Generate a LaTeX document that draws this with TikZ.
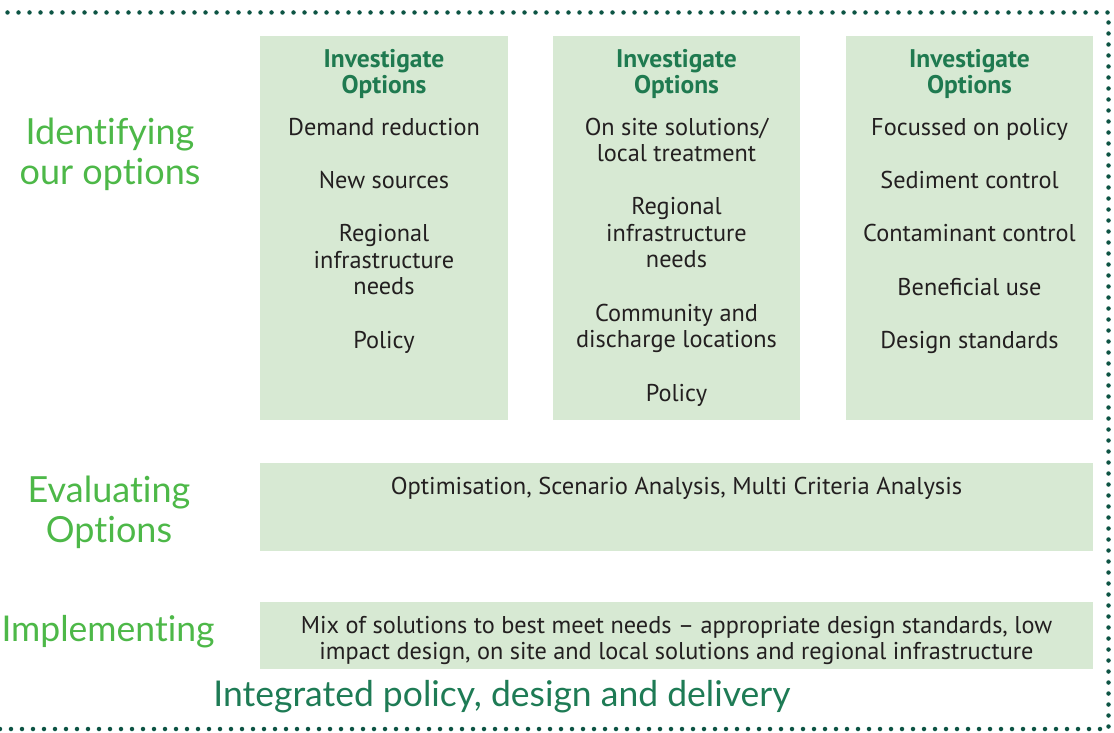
\documentclass[tikz,border=0pt]{standalone}
\usepackage{fontspec}
\setmainfont{PT Sans}
\newfontfamily\labelfont[Ligatures=NoCommon]{Lato}
\definecolor{boxfill}{HTML}{D7E9D3}
\definecolor{dotcol}{HTML}{0D5444}
\definecolor{labgreen}{HTML}{4DB848}
\definecolor{headgreen}{HTML}{1F7A50}
\definecolor{intgreen}{HTML}{1E7B55}
\definecolor{bodytext}{HTML}{231F20}
\begin{document}
\begin{tikzpicture}[x=1pt,y=-1pt,
  panel/.style={fill=boxfill,draw=none},
  body/.style={text=bodytext,font=\fontsize{24.3}{26.5}\selectfont,align=center,inner sep=0pt},
  head/.style={text=headgreen,font=\bfseries\fontsize{25.5}{26.5}\selectfont,align=center,inner sep=0pt},
  lab/.style={text=labgreen,font=\labelfont\fontsize{36}{40}\selectfont,align=center,inner sep=0pt},
  dotline/.style={dotcol,line width=4.5pt,line cap=round,dash pattern=on 0pt off 11pt}]
\useasboundingbox (0,0) rectangle (1114,733);
% dotted frame
\draw[dotline] (-3.5,12.5) -- (1108.5,12.5) -- (1108.5,729) -- (-3.5,729);
% panels
\fill[panel] (260,36) rectangle (508,420);
\fill[panel] (553,36) rectangle (800,420);
\fill[panel] (846,36) rectangle (1093,420);
\fill[panel] (260,463) rectangle (1093,551);
\fill[panel] (260,602) rectangle (1093,669);
% column 1
\node[head] (h1) at (384,74) {Investigate\\Options};
\node[body] (a1) at (384,127) {Demand reduction};
\node[body] (a2) at (384,180) {New sources};
\node[body] (a3) at (384,260) {Regional\\infrastructure\\needs};
\node[body] (a4) at (384,342) {Policy};
% column 2
\node[head] (h2) at (676.5,74) {Investigate\\Options};
\node[body] (b1) at (676.5,140) {On site solutions/\\local treatment};
\node[body] (b2) at (676.5,233) {Regional\\infrastructure\\needs};
\node[body] (b3) at (676.5,328.5) {Community and\\discharge locations};
\node[body] (b4) at (676.5,395) {Policy};
% column 3
\node[head] (h3) at (969.5,74) {Investigate\\Options};
\node[body] (c1) at (969.5,129) {Focussed on policy};
\node[body] (c2) at (969.5,180) {Sediment control};
\node[body] (c3) at (969.5,233) {Contaminant control};
\node[body] (c4) at (969.5,287) {Beneficial use};
\node[body] (c5) at (969.5,342) {Design standards};
% evaluating
\node[body] (ev) at (676.5,488) {\scalebox{1.01}[1]{Optimisation, Scenario Analysis, Multi Criteria Analysis}};
% implementing
\node[body] (im) at (676.5,640.5) {Mix of solutions to best meet needs -- appropriate design standards, low\\impact design, on site and local solutions and regional infrastructure};
% labels
\node[lab] (l1) at (110,154) {Identifying\\our options};
\node[lab] (l2) at (109,512) {Evaluating\\Options};
\node[lab,font=\labelfont\fontsize{35.5}{40}\selectfont] (l3) at (108,632) {Implementing};
\node[lab,text=intgreen,font=\labelfont\fontsize{35.5}{40}\selectfont] (l4) at (502,697) {Integrated policy, design and delivery};
\end{tikzpicture}
\end{document}
